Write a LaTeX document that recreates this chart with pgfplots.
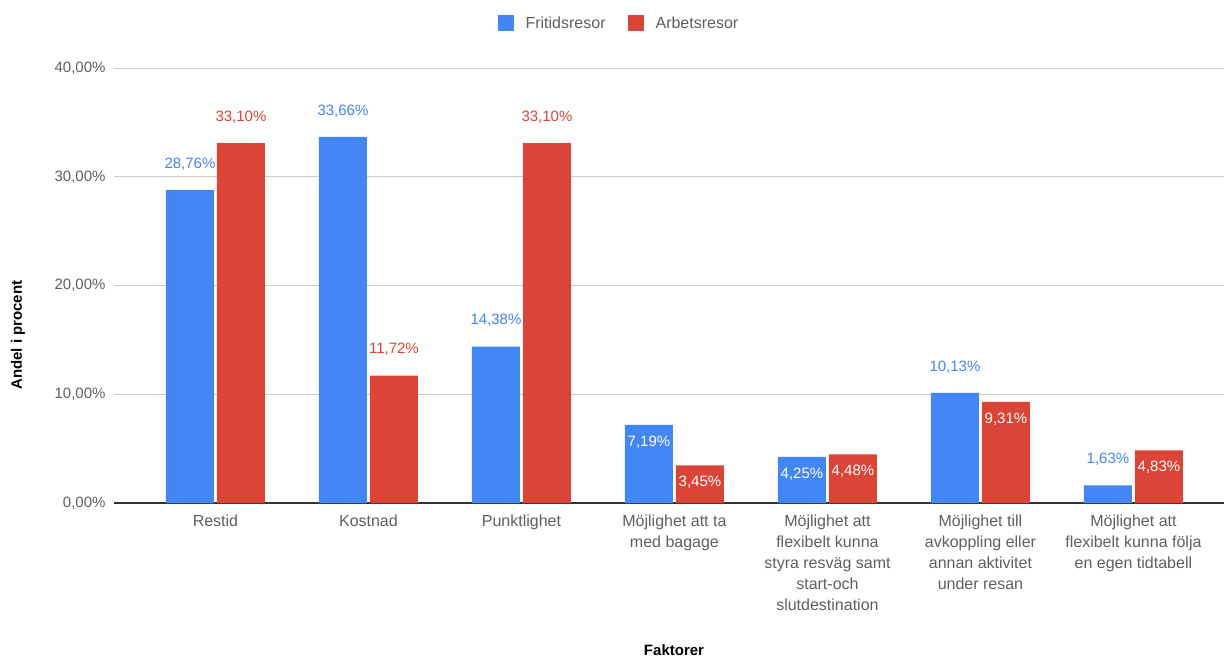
\documentclass[border=0pt]{standalone}
\usepackage{fontspec}
\setmainfont{Liberation Sans}
\usepackage{pgfplots}
\pgfplotsset{compat=1.18}
\definecolor{gblue}{HTML}{4285F4}
\definecolor{gred}{HTML}{DB4437}
\definecolor{tickgray}{HTML}{5F5F5F}
\definecolor{gridgray}{HTML}{CCCCCC}
\definecolor{axisgray}{HTML}{333333}
\begin{document}
\begin{tikzpicture}
\useasboundingbox (-114pt,-154pt) rectangle (1110pt,503pt);
\begin{axis}[
  at={(0pt,0pt)}, anchor=south west,
  scale only axis, width=1110pt, height=435pt,
  xmin=-0.663, xmax=6.592, ymin=0, ymax=40,
  /pgf/number format/assume math mode=true,
  axis x line*=bottom, axis y line*=left,
  y axis line style={draw=none},
  x axis line style={draw=axisgray, line width=1.2pt},
  major tick length=0pt,
  ytick={0,10,20,30,40},
  yticklabels={0{,}00\%,10{,}00\%,20{,}00\%,30{,}00\%,40{,}00\%},
  yticklabel style={font=\fontsize{15}{18}\selectfont, text=tickgray, xshift=-5pt},
  ymajorgrids, grid style={gridgray, line width=0.9pt},
  xtick={0,1,2,3,4,5,6},
  xticklabels={Restid, Kostnad, Punktlighet, {Möjlighet att ta\\med bagage},
    {Möjlighet att\\flexibelt kunna\\styra resväg samt\\start-och\\slutdestination},
    {Möjlighet till\\avkoppling eller\\annan aktivitet\\under resan},
    {Möjlighet att\\flexibelt kunna följa\\en egen tidtabell}},
  xticklabel style={font=\fontsize{16}{21}\selectfont, text=tickgray, align=center, anchor=north, yshift=-8pt},
  xlabel={Faktorer},
  xlabel style={at={(axis description cs:0.5045,-0.338)}, anchor=center, font=\fontsize{15}{18}\selectfont\bfseries},
  ylabel={Andel i procent},
  ylabel style={at={(axis description cs:-0.0865,0.386)}, anchor=center, rotate=0, font=\fontsize{15}{18}\selectfont\bfseries},
  legend columns=2,
  legend style={draw=none, fill=none, at={(axis description cs:0.454,1.1034)}, anchor=center,
    font=\fontsize{16}{19}\selectfont, text=tickgray,
    /tikz/every odd column/.append style={column sep=12pt},
    /tikz/every even column/.append style={column sep=22pt},
    nodes={inner sep=0pt}},
  nodes near coords={\pgfmathprintnumber[fixed, fixed zerofill, precision=2, use comma, assume math mode=true]{\pgfplotspointmeta}\%},
  every node near coord/.append style={font=\fontsize{15}{18}\selectfont, anchor=center},
]
% bars
\addplot[ybar, bar width=48pt, bar shift=-25.5pt, fill=gblue, draw=none, nodes near coords={},
  legend image code/.code={\fill[gblue] (0pt,-8pt) rectangle (16pt,8pt);}]
  coordinates {(0,28.76) (1,33.66) (2,14.38) (3,7.19) (4,4.25) (5,10.13) (6,1.63)};
\addlegendentry{Fritidsresor}
\addplot[ybar, bar width=48pt, bar shift=25.5pt, fill=gred, draw=none, nodes near coords={},
  legend image code/.code={\fill[gred] (0pt,-8pt) rectangle (16pt,8pt);}]
  coordinates {(0,33.10) (1,11.72) (2,33.10) (3,3.45) (4,4.48) (5,9.31) (6,4.83)};
\addlegendentry{Arbetsresor}
% labels above bars
\addplot[only marks, mark=none, forget plot,
  every node near coord/.append style={text=gblue, xshift=-25.5pt, yshift=26pt}]
  coordinates {(0,28.76) (1,33.66) (2,14.38) (5,10.13) (6,1.63)};
\addplot[only marks, mark=none, forget plot,
  every node near coord/.append style={text=gred, xshift=25.5pt, yshift=26pt}]
  coordinates {(0,33.10) (1,11.72) (2,33.10)};
% labels inside bars
\addplot[only marks, mark=none, forget plot,
  every node near coord/.append style={text=white, xshift=-25.5pt, yshift=-17pt}]
  coordinates {(3,7.19) (4,4.25)};
\addplot[only marks, mark=none, forget plot,
  every node near coord/.append style={text=white, xshift=25.5pt, yshift=-17pt}]
  coordinates {(3,3.45) (4,4.48) (5,9.31) (6,4.83)};
\end{axis}
\end{tikzpicture}
\end{document}
